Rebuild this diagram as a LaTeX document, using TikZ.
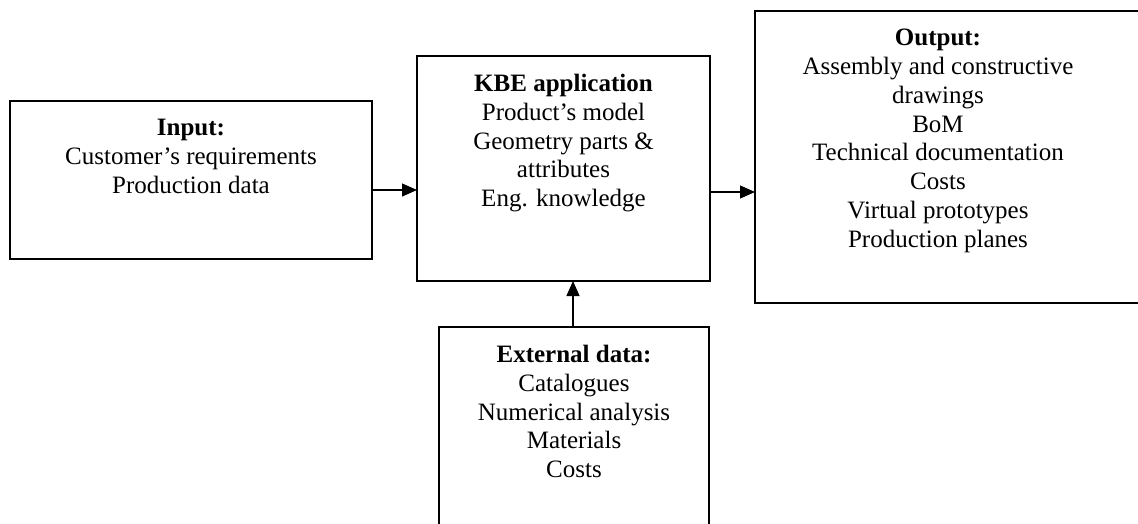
\documentclass[tikz,border=0pt]{standalone}
\usepackage{fontspec}
\setmainfont{Liberation Serif}
\usetikzlibrary{arrows.meta}
\tikzset{
  box/.style={draw=black, line width=1.2pt, inner sep=0pt, outer sep=0pt, fill=none},
  txt/.style={anchor=north, align=center, inner sep=0pt, font=\fontsize{25}{28.8}\selectfont},
  arr/.style={line width=1.2pt, -{Triangle[length=15pt,width=13pt]}}
}
\begin{document}
\begin{tikzpicture}[x=1pt,y=-1pt]
\useasboundingbox (0,0) rectangle (1138,524);
\clip (0,0) rectangle (1138,524);
% boxes
\node[box, minimum width=362pt, minimum height=158pt] (in) at (191,180) {};
\node[box, minimum width=293pt, minimum height=225pt] (kbe) at (563.5,168.5) {};
\node[box, minimum width=420pt, minimum height=292pt] (out) at (965,157) {};
\node[box, minimum width=270pt, minimum height=220pt] (ext) at (574,437) {};
% texts
\node[txt] (tin) at ([yshift=-18pt]in.north) {\textbf{Input:}\\Customer’s requirements\\Production data};
\node[txt] (tkbe) at ([yshift=-18pt]kbe.north) {\textbf{KBE application}\\Product’s model\\Geometry parts \&\\attributes\\Eng. knowledge};
\node[txt] (tout) at ([yshift=-18pt]out.north -| 938,0) {\textbf{Output:}\\Assembly and constructive\\drawings\\BoM\\Technical documentation\\Costs\\Virtual prototypes\\Production planes};
\node[txt] (text) at ([yshift=-18pt]ext.north) {\textbf{External data:}\\Catalogues\\Numerical analysis\\Materials\\Costs};
% connectors
\draw[arr] (in.east |- 0,190) -- (kbe.west |- 0,190);
\draw[arr] (kbe.east |- 0,192) -- (out.west |- 0,192);
\draw[arr] (ext.north -| 573,0) -- (kbe.south -| 573,0);
\end{tikzpicture}
\end{document}
